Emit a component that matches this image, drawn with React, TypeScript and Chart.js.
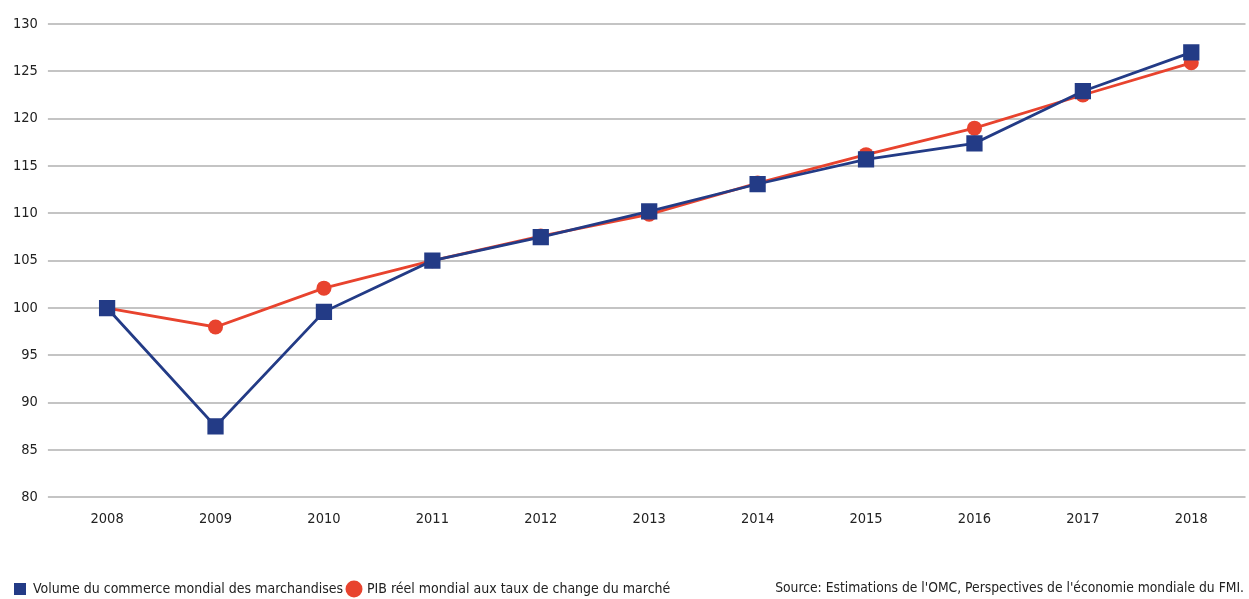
import React, { useEffect, useRef } from "react";
import { Chart, registerables } from "chart.js";

Chart.register(...registerables);

const years = ["2008", "2009", "2010", "2011", "2012", "2013", "2014", "2015", "2016", "2017", "2018"];
const tradeVolume = [100, 87.5, 99.6, 105, 107.5, 110.2, 113.1, 115.7, 117.4, 122.9, 127.0];
const realGDP = [100, 98.0, 102.1, 105, 107.6, 109.9, 113.2, 116.2, 119.0, 122.5, 125.9];
const tradeLabel = "Volume du commerce mondial des marchandises";
const gdpLabel = "PIB réel mondial aux taux de change du marché";
const sourceText = "Source: Estimations de l'OMC, Perspectives de l'économie mondiale du FMI.";

const BLUE = "#233b86";
const RED = "#e8432e";
const FONT = "'Liberation Sans Narrow', 'DejaVu Sans Condensed', 'Liberation Sans', sans-serif";

const shiftLegend = {
  id: "shiftLegend",
  afterLayout(chart: any) {
    const l = chart.legend;
    if (l) {
      l.left += 6;
      l.right += 6;
    }
  },
};

export default function App() {
  const ref = useRef<HTMLCanvasElement | null>(null);
  useEffect(() => {
    document.body.style.margin = "0";
    const chart = new Chart(ref.current as HTMLCanvasElement, {
      type: "line",
      data: {
        labels: years,
        datasets: [
          {
            label: tradeLabel,
            data: tradeVolume,
            borderColor: BLUE,
            backgroundColor: BLUE,
            borderWidth: 2.8,
            pointStyle: "rect",
            pointRadius: 11.5,
            pointBorderWidth: 0,
            tension: 0,
          },
          {
            label: gdpLabel,
            data: realGDP,
            borderColor: RED,
            backgroundColor: RED,
            borderWidth: 2.8,
            pointStyle: "circle",
            pointRadius: 7.5,
            pointBorderWidth: 0,
            tension: 0,
          },
        ],
      },
      plugins: [shiftLegend],
      options: {
        animation: false,
        responsive: false,
        maintainAspectRatio: false,
        layout: { padding: { top: 24, right: 0, left: 3, bottom: 0 } },
        plugins: {
          tooltip: { enabled: false },
          legend: {
            position: "bottom",
            align: "start",
            title: { display: true, text: " ", font: { size: 1 }, padding: { top: 0, bottom: 35 } },
            labels: {
              usePointStyle: true,
              boxWidth: 12,
              boxHeight: 12,
              padding: 5,
              color: "#222",
              font: { family: FONT, size: 14 },
              generateLabels: (c: any) =>
                c.data.datasets.map((d: any, i: number) => ({
                  text: d.label,
                  fillStyle: d.backgroundColor,
                  strokeStyle: d.backgroundColor,
                  lineWidth: 0,
                  pointStyle: d.pointStyle,
                  datasetIndex: i,
                  fontColor: "#222",
                })),
            },
          },
        },
        scales: {
          x: {
            offset: true,
            grid: { display: false, drawTicks: false },
            border: { display: false },
            ticks: { color: "#222", font: { family: FONT, size: 14.5 }, padding: 13 },
          },
          y: {
            min: 80,
            max: 130,
            grid: { color: "#c4c4c4", lineWidth: 2, tickLength: 5, drawTicks: true },
            border: { display: false },
            ticks: { stepSize: 5, color: "#222", font: { family: FONT, size: 14.5 }, padding: 10 },
          },
        },
      },
    });
    return () => chart.destroy();
  }, []);
  return (
    <div style={{ position: "relative", width: 1249, height: 599, background: "#fff", overflow: "hidden" }}>
      <canvas ref={ref} width={1257} height={606} style={{ display: "block" }} />
      <div
        style={{
          position: "absolute",
          right: 5,
          top: 579,
          fontFamily: FONT,
          fontSize: 13.75,
          color: "#222",
          whiteSpace: "nowrap",
        }}
      >
        {sourceText}
      </div>
    </div>
  );
}
